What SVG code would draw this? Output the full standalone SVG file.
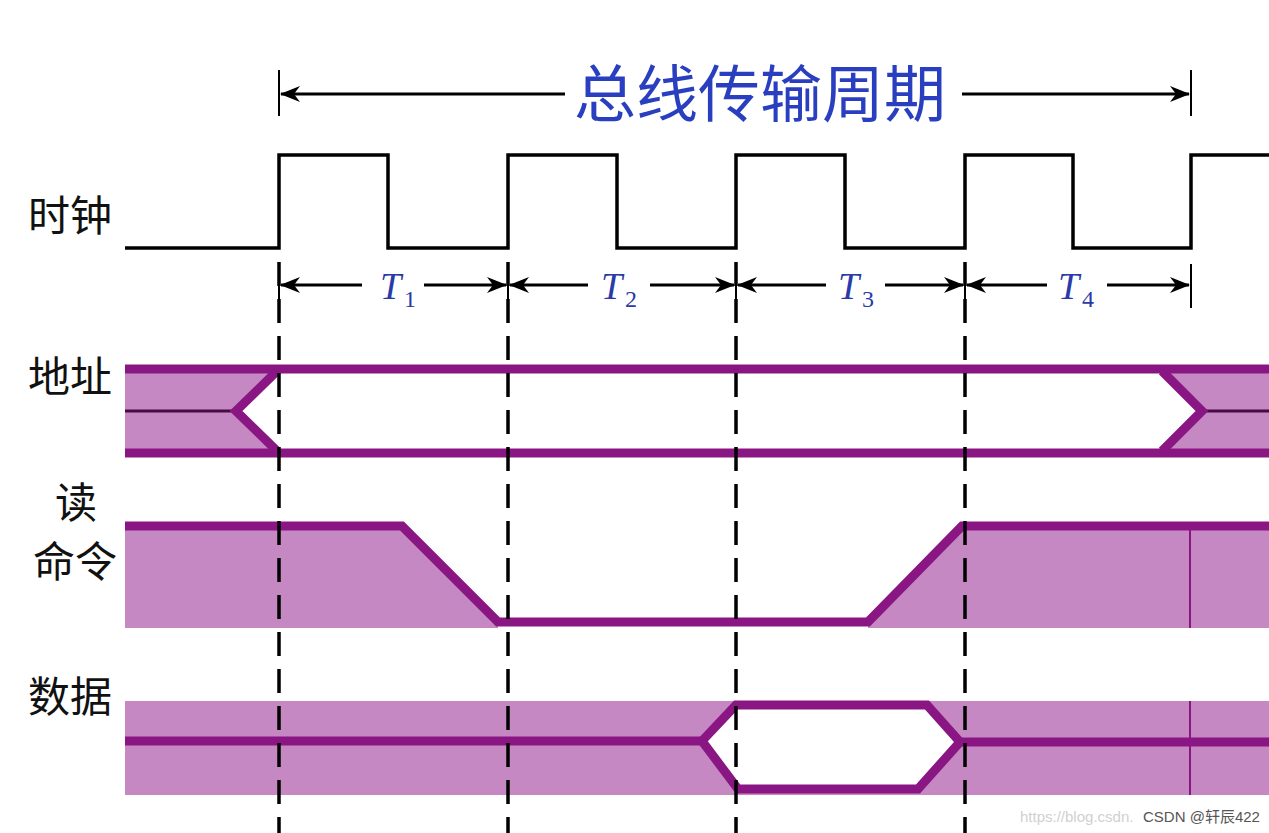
<svg xmlns="http://www.w3.org/2000/svg" width="1269" height="833" viewBox="0 0 1269 833">
<defs>
<marker id="ah" viewBox="0 0 20 16" refX="19" refY="8" markerWidth="20" markerHeight="16" markerUnits="userSpaceOnUse" orient="auto-start-reverse">
<path d="M0,0 L20,8 L0,16 L6,8 Z" fill="#000"/>
</marker>
</defs>
<style>
.lbl{font-family:"Noto Sans CJK SC","Noto Sans",sans-serif;font-size:42px;fill:#111}
.t{font-family:"Liberation Serif",serif;font-style:italic;font-size:38px;fill:#2a3aa8}
.sub{font-family:"Liberation Serif",serif;font-size:24px;fill:#2a3aa8}
.dim{stroke:#000;stroke-width:3;fill:none}
.tick{stroke:#000;stroke-width:2;fill:none}
.fill{fill:#c588c3;stroke:none}
.bus{stroke:#8a1684;stroke-width:9;fill:none;stroke-linejoin:miter}
.thin{stroke:#8a1684;stroke-width:2;fill:none}
.dash{stroke:#000;stroke-width:3.5;stroke-dasharray:24 13;fill:none}
</style>
<rect width="1269" height="833" fill="#fff"/>

<g id="title">
<line class="tick" x1="279" y1="70" x2="279" y2="116"/>
<line class="tick" x1="1191" y1="70" x2="1191" y2="116"/>
<line class="dim" x1="281" y1="94" x2="565" y2="94" marker-start="url(#ah)"/>
<line class="dim" x1="962" y1="94" x2="1189" y2="94" marker-end="url(#ah)"/>
<text x="760" y="117" text-anchor="middle" font-family="Noto Sans CJK SC,sans-serif" font-size="62" fill="#2a3fbf">总线传输周期</text>
</g>

<g id="labels">
<text class="lbl" x="28" y="231">时钟</text>
<text class="lbl" x="28" y="392">地址</text>
<text class="lbl" x="55" y="518">读</text>
<text class="lbl" x="33" y="577">命令</text>
<text class="lbl" x="28" y="712">数据</text>
</g>

<g id="clock">
<path d="M125,248 H279 V155 H388 V248 H508 V155 H617 V248 H736 V155 H845 V248 H965 V155 H1073 V248 H1191 V155 H1269" stroke="#000" stroke-width="3.5" fill="none"/>
</g>

<g id="periods">
<line class="tick" x1="279" y1="264" x2="279" y2="306"/>
<line class="tick" x1="508" y1="264" x2="508" y2="306"/>
<line class="tick" x1="736" y1="264" x2="736" y2="306"/>
<line class="tick" x1="965" y1="264" x2="965" y2="306"/>
<line class="tick" x1="1191" y1="264" x2="1191" y2="308"/>
<line class="dim" x1="281" y1="285" x2="362" y2="285" marker-start="url(#ah)"/>
<line class="dim" x1="424" y1="285" x2="506" y2="285" marker-end="url(#ah)"/>
<line class="dim" x1="510" y1="285" x2="588" y2="285" marker-start="url(#ah)"/>
<line class="dim" x1="650" y1="285" x2="734" y2="285" marker-end="url(#ah)"/>
<line class="dim" x1="738" y1="285" x2="826" y2="285" marker-start="url(#ah)"/>
<line class="dim" x1="885" y1="285" x2="963" y2="285" marker-end="url(#ah)"/>
<line class="dim" x1="967" y1="285" x2="1047" y2="285" marker-start="url(#ah)"/>
<line class="dim" x1="1107" y1="285" x2="1189" y2="285" marker-end="url(#ah)"/>
<text class="t" x="380" y="299">T</text><text class="sub" x="404" y="307">1</text>
<text class="t" x="601" y="299">T</text><text class="sub" x="625" y="307">2</text>
<text class="t" x="838" y="299">T</text><text class="sub" x="862" y="307">3</text>
<text class="t" x="1058" y="299">T</text><text class="sub" x="1082" y="307">4</text>
</g>

<g id="address">
<polygon class="fill" points="125,369 277,369 236,411 277,453 125,453"/>
<polygon class="fill" points="1162,369 1269,369 1269,453 1162,453 1202,411"/>
<line x1="125" y1="411" x2="236" y2="411" stroke="#4a0a46" stroke-width="3"/>
<line x1="1202" y1="411" x2="1269" y2="411" stroke="#4a0a46" stroke-width="3"/>
<line class="bus" x1="125" y1="369" x2="1269" y2="369"/>
<line class="bus" x1="125" y1="453" x2="1269" y2="453"/>
<polyline class="bus" points="277,371 236,411 277,451"/>
<polyline class="bus" points="1162,371 1202,411 1162,451"/>
</g>

<g id="read">
<polygon class="fill" points="125,526 402,526 498,622 498,628 125,628"/>
<polygon class="fill" points="868,622 962,526 1269,526 1269,628 868,628"/>
<line class="thin" x1="1190" y1="528" x2="1190" y2="628"/>
<polyline class="bus" points="125,526 402,526 498,622 868,622 962,526 1269,526"/>
</g>

<g id="data">
<path class="fill" fill-rule="evenodd" d="M125,701 H1269 V795 H125 Z M702,741 L736,705 L927,705 L960,742 L918,789 L738,789 Z"/>
<line class="thin" x1="1190" y1="701" x2="1190" y2="795"/>
<polyline class="bus" points="125,741 702,741"/>
<polyline class="bus" points="960,742 1269,742"/>
<polygon class="bus" points="702,741 736,705 927,705 960,742 918,789 738,789"/>
</g>

<g id="guides">
<line class="dash" x1="279" y1="262" x2="279" y2="833"/>
<line class="dash" x1="508" y1="262" x2="508" y2="833"/>
<line class="dash" x1="736" y1="262" x2="736" y2="833"/>
<line class="dash" x1="965" y1="262" x2="965" y2="833"/>
</g>

<g id="watermark">
<text x="1020" y="822" font-family="Liberation Sans,sans-serif" font-size="15" fill="#d0d0d0">https://blog.csdn.</text>
<text x="1143" y="822" font-family="Liberation Sans,Noto Sans CJK SC,sans-serif" font-size="15" fill="#555">CSDN @轩辰422</text>
</g>
</svg>
